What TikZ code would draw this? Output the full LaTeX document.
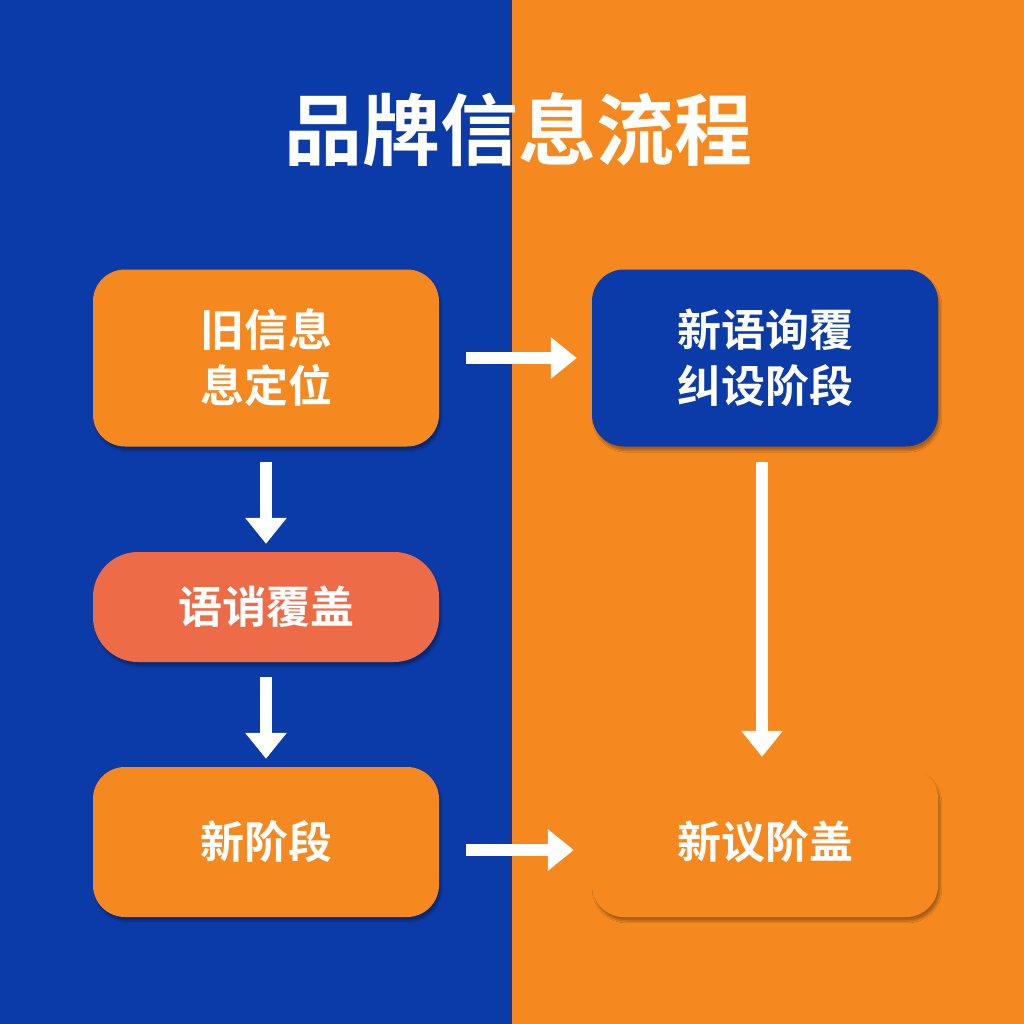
\documentclass[tikz,border=0pt]{standalone}
\usepackage{fontspec}
\newfontfamily\cjk{Noto Sans CJK SC}[BoldFont={Noto Sans CJK SC Bold}]
\usetikzlibrary{arrows.meta,shadows.blur}
\definecolor{bblue}{HTML}{0B3BA8}
\definecolor{borange}{HTML}{F5881F}
\definecolor{bred}{HTML}{EE6B48}
\begin{document}
\begin{tikzpicture}[x=1pt,y=-1pt,
  box/.style={rounded corners=32pt,minimum width=346pt,text=white,font=\cjk\bfseries\fontsize{44}{56}\selectfont,align=center,blur shadow={shadow blur steps=8,shadow xshift=2pt,shadow yshift=-4pt,shadow opacity=30}},
  arr/.style={white,line width=12pt,-{Triangle[length=26pt,width=40pt]}}]
\fill[bblue] (0,0) rectangle (512,1024);
\fill[borange] (512,0) rectangle (1024,1024);
\useasboundingbox (0,0) rectangle (1024,1024);
\node[font=\cjk\bfseries\fontsize{78}{86}\selectfont,text=white] (title) at (518,130) {品牌信息流程};
\node[box,fill=borange,minimum height=177pt] (a) at (266,358) {旧信息\\息定位};
\node[box,fill=bblue,minimum height=177pt] (b) at (765,358) {新语询覆\\纠设阶段};
\node[box,fill=bred,minimum height=110pt,rounded corners=45pt] (c) at (266,607) {语诮覆盖};
\node[box,fill=borange,minimum height=150pt] (d) at (266,842) {新阶段};
\node[box,fill=borange,minimum height=150pt] (e) at (765,842) {新议阶盖};
\draw[arr] ([xshift=27pt]a.east) -- ([xshift=-15pt]b.west);
\draw[arr] ([yshift=-15pt]a.south) -- ([yshift=8pt]c.north);
\draw[arr] ([yshift=-15pt]c.south) -- ([yshift=8pt]d.north);
\draw[arr] ([xshift=27pt,yshift=-8pt]d.east) -- ([xshift=-18pt,yshift=-8pt]e.west);
\draw[arr] ([xshift=-3pt,yshift=-15pt]b.south) -- ([xshift=-3pt,yshift=10pt]e.north);
\end{tikzpicture}
\end{document}
